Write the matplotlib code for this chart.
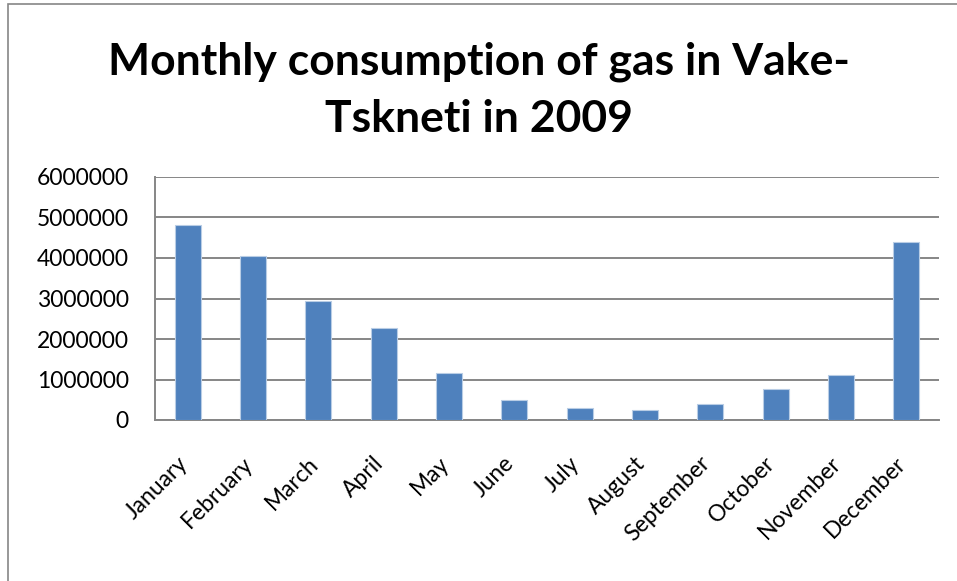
import numpy as np
import matplotlib
matplotlib.use("Agg")
import matplotlib.pyplot as plt
import matplotlib.transforms as mtransforms
from matplotlib.patches import Rectangle

months = ["January", "February", "March", "April", "May", "June", "July",
          "August", "September", "October", "November", "December"]
consumption = [4810000, 4050000, 2950000, 2270000, 1160000, 490000, 290000,
               250000, 385000, 760000, 1120000, 4400000]
yticks = [0, 1000000, 2000000, 3000000, 4000000, 5000000, 6000000]

plt.rcParams['font.family'] = ['Lato', 'DejaVu Sans']

fig = plt.figure(figsize=(9.57, 5.81), dpi=100)
ax = fig.add_axes([155/957, 1 - 420/581, (939-155)/957, (420-177)/581])

x = np.arange(len(months))
ax.bar(x, consumption, width=0.4, color="#4F81BD", edgecolor="#B9CDE5",
       linewidth=0.8, zorder=3)

ax.set_xlim(-0.5, len(months) - 0.5)
ax.set_ylim(0, 6000000)
ax.set_yticks(yticks)
ax.set_yticklabels([str(v) for v in yticks], fontsize=16.5)
ax.set_xticks(x)
ax.set_xticklabels(months, rotation=45, ha="right", rotation_mode="anchor",
                   fontsize=16.5)
ax.tick_params(axis="y", length=0, pad=19)
ax.tick_params(axis="x", length=0, pad=25)
# nudge the slanted month names left so their ends sit over the bars
shift = mtransforms.ScaledTranslation(-0.11, 0.02, fig.dpi_scale_trans)
for lbl in ax.get_xticklabels():
    lbl.set_transform(lbl.get_transform() + shift)
ax.grid(axis="y", color="#868686", linewidth=1.4, zorder=0)
for s in ["top", "right"]:
    ax.spines[s].set_visible(False)
for s in ["left", "bottom"]:
    ax.spines[s].set_color("#868686")
    ax.spines[s].set_linewidth(1.4)

fig.text(0.5, 1 - 62/581, "Monthly consumption of gas in Vake-",
         ha="center", va="center", fontsize=32, fontweight="bold")
fig.text(0.5, 1 - 119/581, "Tskneti in 2009",
         ha="center", va="center", fontsize=32, fontweight="bold")

# chart border (bottom and right edges fall outside the picture)
fig.patches.append(Rectangle((8/957, -0.1), 1, 1.1 - 4/581, transform=fig.transFigure,
                             fill=False, edgecolor="#868686", linewidth=1.2))

fig.savefig("out.png", dpi=100)
